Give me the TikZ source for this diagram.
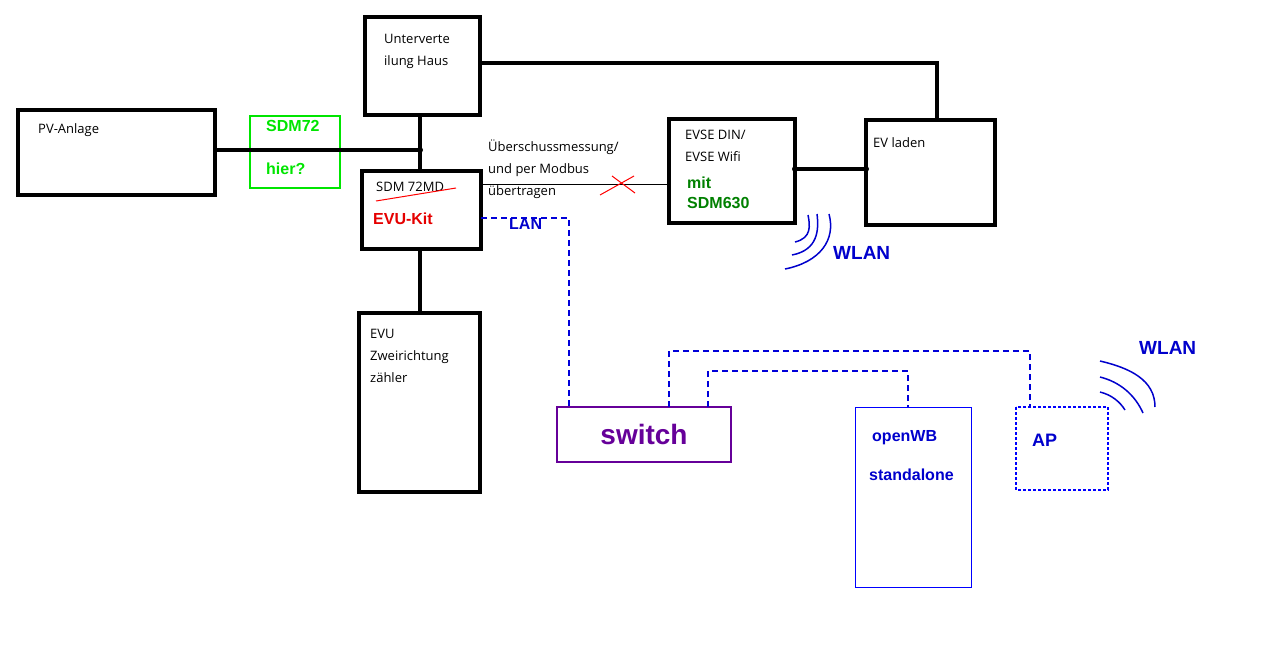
\documentclass[tikz,border=0pt]{standalone}
\usepackage{fontspec}
\setmainfont{Liberation Sans}
\newfontfamily\ofont{Open Sans}
\begin{document}
\begin{tikzpicture}[x=1pt,y=-1pt,
 t/.style={anchor=north west,font=\ofont\fontsize{13}{22}\selectfont,align=left,inner sep=0},
 lan/.style={blue!85!black,line width=1.6pt,dash pattern=on 6pt off 4pt},
 bl/.style={font=\bfseries\fontsize{16}{20}\selectfont,inner sep=0,anchor=north west,align=left}]
\useasboundingbox (0,0) rectangle (1264,654);
\draw[line width=3.5pt] (365,17) rectangle (480,115);
\node[t] (uv) at (384,34) {Unterverte\\ilung Haus};
\draw[line width=3.5pt] (18,110) rectangle (215,195);
\node[t] (pv) at (38,123) {PV-Anlage};
\draw[green!90!black,line width=1.5pt] (250,116) rectangle (340,188);
\node[bl,green!90!black] (s72) at (266,120) {SDM72};
\node[bl,green!90!black] (hier) at (266,163) {hier?};
\draw[line width=3.5pt] (362,171) rectangle (481,249);
\node[t] (sdm) at (376,182) {SDM 72MD};
\draw[red,line width=1pt] (376,201) -- (456,188);
\node[bl,red!90!black] (kit) at (373,213) {EVU-Kit};
\draw[line width=3.5pt] (359,313) rectangle (480,492);
\node[t] (evu) at (370,329) {EVU\\Zweirichtung\\zähler};
\draw[line width=3.5pt] (669,119) rectangle (795,223);
\node[t] (evse) at (685,130) {EVSE DIN/\\EVSE Wifi};
\node[bl,green!50!black] (mit) at (687,177) {mit\\SDM630};
\draw[line width=3.5pt] (866,120) rectangle (995,225);
\node[t] (ev) at (873,137) {EV laden};
\draw[violet!80!blue,line width=2pt] (557,407) rectangle (731,462);
\node[anchor=center,violet!80!blue,font=\bfseries\fontsize{28}{32}\selectfont] (sw) at (644,434) {switch};
\draw[blue,line width=1pt] (855,407) rectangle (971,587);
\node[bl,blue!80!black] (ow) at (872,430) {openWB};
\node[bl,blue!80!black] (sa) at (869,469) {standalone};
\draw[blue,line width=1.2pt,dash pattern=on 3pt off 2pt] (1016,407) rectangle (1108,490);
\node[bl,blue!80!black,font=\bfseries\fontsize{18}{20}\selectfont] (ap) at (1032,434) {AP};
% black lines
\draw[line width=3.5pt] (215,150) -- (420,150);
\draw[line width=3.5pt] (420,115) -- (420,171);
\fill (420,150) circle (3pt);
\draw[line width=3.5pt] (420,249) -- (420,313);
\draw[line width=3.5pt] (480,63) -- (937,63) -- (937,120);
\draw[line width=3.5pt] (795,169) -- (866,169);
\fill (795,169) circle (3pt) (866,169) circle (3pt);
\draw[line width=0.8pt] (481,184) -- (669,184);
\node[t] (ue) at (488,140) {Überschussmessung/\\und per Modbus\\übertragen};
\draw[red,line width=1pt] (600,195) -- (634,176) (612,176) -- (635,193);
% LAN
\draw[lan] (481,218) -- (569,218) -- (569,407);
\node[bl,blue!80!black] (lanl) at (509,218) {LAN};
\draw[lan] (669,407) -- (669,351) -- (1030,351) -- (1030,407);
\draw[lan] (708,407) -- (708,371) -- (908,371) -- (908,407);
% WLAN 1
\draw[blue!80!black,line width=1.5pt] (795,242) .. controls (812,238) and (810,225) .. (808,215);
\draw[blue!80!black,line width=1.5pt] (792,255) .. controls (818,250) and (819,230) .. (817,214);
\draw[blue!80!black,line width=1.5pt] (785,269) .. controls (820,262) and (836,240) .. (829,214);
\node[bl,blue!80!black,font=\bfseries\fontsize{19}{22}\selectfont] (w1) at (833,246) {WLAN};
% WLAN 2
\draw[blue!80!black,line width=1.5pt] (1100,392) .. controls (1112,395) and (1120,402) .. (1125,410);
\draw[blue!80!black,line width=1.5pt] (1100,377) .. controls (1120,382) and (1135,395) .. (1143,413);
\draw[blue!80!black,line width=1.5pt] (1100,361) .. controls (1130,368) and (1155,380) .. (1155,407);
\node[bl,blue!80!black,font=\bfseries\fontsize{19}{22}\selectfont] (w2) at (1139,341) {WLAN};
\end{tikzpicture}
\end{document}
